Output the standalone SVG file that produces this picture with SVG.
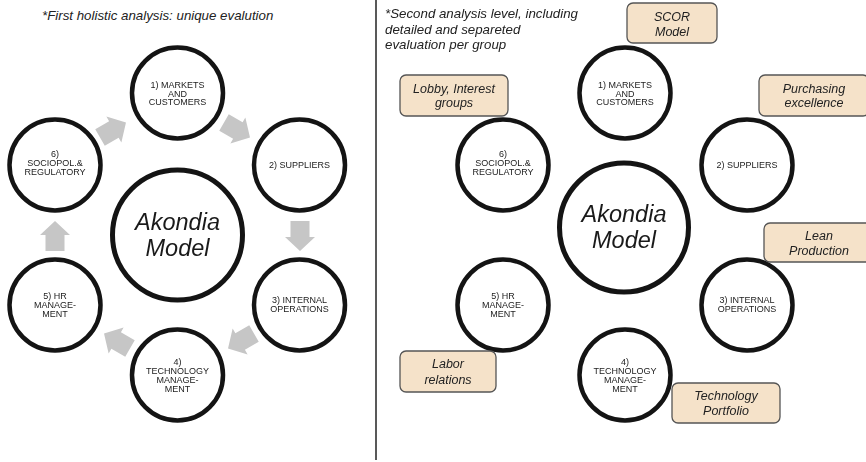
<svg xmlns="http://www.w3.org/2000/svg" xmlns:xlink="http://www.w3.org/1999/xlink" width="866" height="462" viewBox="0 0 866 462">
  <style>
    .ring { fill: #ffffff; stroke: #141414; stroke-width: 4.5; }
    .hub { fill: #ffffff; stroke: #141414; stroke-width: 5; }
    .lbl { font-family: "Liberation Sans", Arial, sans-serif; font-size: 9px; fill: #222222; text-anchor: middle; }
    .hubtxt { font-family: "Liberation Sans", Arial, sans-serif; font-size: 23.5px; font-style: italic; fill: #1a1a1a; text-anchor: middle; }
    .note { font-family: "Liberation Sans", Arial, sans-serif; font-size: 13.3px; font-style: italic; fill: #222222; }
    .tag rect { fill: #f5e2c9; stroke: #555555; stroke-width: 1.3; }
    .tag text { font-family: "Liberation Sans", Arial, sans-serif; font-size: 12.5px; font-style: italic; fill: #222222; text-anchor: middle; }
    .flow { fill: #c6c6c6; }
  </style>
  <defs>
    <filter id="soft" x="-30%" y="-30%" width="160%" height="160%">
      <feGaussianBlur stdDeviation="0.7"/>
    </filter>
    <!-- block arrow pointing along +x, centred on the origin -->
    <path id="arr" d="M-15,-9.5 H1 V-15 L15,0 L1,15 V9.5 H-15 Z"/>
  </defs>

  <rect width="866" height="462" fill="#ffffff"/>

  <!-- panel divider -->
  <line x1="376" y1="0" x2="376" y2="460" stroke="#222222" stroke-width="1.5"/>

  <!-- ===== Left panel: cyclic view ===== -->
  <text class="note" x="42" y="19.5">*First holistic analysis: unique evalution</text>

  <g id="connectors" class="flow" filter="url(#soft)">
    <use xlink:href="#arr" transform="translate(113,130) rotate(-30)"/>
    <use xlink:href="#arr" transform="translate(237,130) rotate(30)"/>
    <use xlink:href="#arr" transform="translate(300,236) rotate(90)"/>
    <use xlink:href="#arr" transform="translate(241,341) rotate(150)"/>
    <use xlink:href="#arr" transform="translate(117,341) rotate(210)"/>
    <use xlink:href="#arr" transform="translate(55,236) rotate(-90)"/>
  </g>

  <g id="L-hub">
    <circle class="hub" cx="177.5" cy="235" r="65"/>
    <text class="hubtxt" x="177.5" y="230">Akondia</text>
    <text class="hubtxt" x="177.5" y="256">Model</text>
  </g>
  <g id="L-markets">
    <circle class="ring" cx="177.5" cy="93" r="45.5"/>
    <text class="lbl" x="177.5" y="88">1) MARKETS</text>
    <text class="lbl" x="177.5" y="96.5">AND</text>
    <text class="lbl" x="177.5" y="105">CUSTOMERS</text>
  </g>
  <g id="L-suppliers">
    <circle class="ring" cx="299.5" cy="165" r="45.5"/>
    <text class="lbl" x="299.5" y="168">2) SUPPLIERS</text>
  </g>
  <g id="L-operations">
    <circle class="ring" cx="299.5" cy="305" r="45.5"/>
    <text class="lbl" x="299.5" y="303">3) INTERNAL</text>
    <text class="lbl" x="299.5" y="312">OPERATIONS</text>
  </g>
  <g id="L-technology">
    <circle class="ring" cx="177.5" cy="375" r="45.5"/>
    <text class="lbl" x="177.5" y="365">4)</text>
    <text class="lbl" x="177.5" y="374">TECHNOLOGY</text>
    <text class="lbl" x="177.5" y="383">MANAGE-</text>
    <text class="lbl" x="177.5" y="392">MENT</text>
  </g>
  <g id="L-hr">
    <circle class="ring" cx="55" cy="305" r="45.5"/>
    <text class="lbl" x="55" y="299">5) HR</text>
    <text class="lbl" x="55" y="308">MANAGE-</text>
    <text class="lbl" x="55" y="317">MENT</text>
  </g>
  <g id="L-sociopol">
    <circle class="ring" cx="55" cy="165" r="45.5"/>
    <text class="lbl" x="55" y="157">6)</text>
    <text class="lbl" x="55" y="166">SOCIOPOL.&amp;</text>
    <text class="lbl" x="55" y="175">REGULATORY</text>
  </g>

  <!-- ===== Right panel: per-group evaluation ===== -->
  <text class="note">
    <tspan x="385" y="18">*Second analysis level, including</tspan>
    <tspan x="385" y="33.5">detailed and separeted</tspan>
    <tspan x="385" y="49">evaluation per group</tspan>
  </text>

  <g id="R-hub">
    <circle class="hub" cx="624" cy="227.5" r="64.5"/>
    <text class="hubtxt" x="624" y="222">Akondia</text>
    <text class="hubtxt" x="624" y="248">Model</text>
  </g>
  <g id="R-markets">
    <circle class="ring" cx="625" cy="93" r="45.5"/>
    <text class="lbl" x="625" y="88">1) MARKETS</text>
    <text class="lbl" x="625" y="96.5">AND</text>
    <text class="lbl" x="625" y="105">CUSTOMERS</text>
  </g>
  <g id="R-suppliers">
    <circle class="ring" cx="747" cy="165" r="45.5"/>
    <text class="lbl" x="747" y="168">2) SUPPLIERS</text>
  </g>
  <g id="R-operations">
    <circle class="ring" cx="747" cy="305" r="45.5"/>
    <text class="lbl" x="747" y="303">3) INTERNAL</text>
    <text class="lbl" x="747" y="312">OPERATIONS</text>
  </g>
  <g id="R-technology">
    <circle class="ring" cx="625" cy="375" r="45.5"/>
    <text class="lbl" x="625" y="365">4)</text>
    <text class="lbl" x="625" y="374">TECHNOLOGY</text>
    <text class="lbl" x="625" y="383">MANAGE-</text>
    <text class="lbl" x="625" y="392">MENT</text>
  </g>
  <g id="R-hr">
    <circle class="ring" cx="503" cy="305" r="45.5"/>
    <text class="lbl" x="503" y="299">5) HR</text>
    <text class="lbl" x="503" y="308">MANAGE-</text>
    <text class="lbl" x="503" y="317">MENT</text>
  </g>
  <g id="R-sociopol">
    <circle class="ring" cx="503" cy="165" r="45.5"/>
    <text class="lbl" x="503" y="157">6)</text>
    <text class="lbl" x="503" y="166">SOCIOPOL.&amp;</text>
    <text class="lbl" x="503" y="175">REGULATORY</text>
  </g>

  <!-- method tags -->
  <g id="tag-scor" class="tag">
    <rect x="627" y="3" width="90" height="40" rx="6"/>
    <text x="672" y="21">SCOR</text>
    <text x="672" y="35.5">Model</text>
  </g>
  <g id="tag-lobby" class="tag">
    <rect x="400" y="75" width="108" height="41" rx="6"/>
    <text x="454" y="93">Lobby, Interest</text>
    <text x="454" y="107">groups</text>
  </g>
  <g id="tag-purchasing" class="tag">
    <rect x="759" y="75" width="110" height="41" rx="6"/>
    <text x="814" y="93">Purchasing</text>
    <text x="814" y="107">excellence</text>
  </g>
  <g id="tag-lean" class="tag">
    <rect x="764" y="223" width="110" height="39" rx="6"/>
    <text x="819" y="240">Lean</text>
    <text x="819" y="255">Production</text>
  </g>
  <g id="tag-labor" class="tag">
    <rect x="400" y="351" width="96" height="41" rx="6"/>
    <text x="448" y="368">Labor</text>
    <text x="448" y="383.5">relations</text>
  </g>
  <g id="tag-techportfolio" class="tag">
    <rect x="672" y="383" width="108" height="40" rx="6"/>
    <text x="726" y="400">Technology</text>
    <text x="726" y="415">Portfolio</text>
  </g>
</svg>
